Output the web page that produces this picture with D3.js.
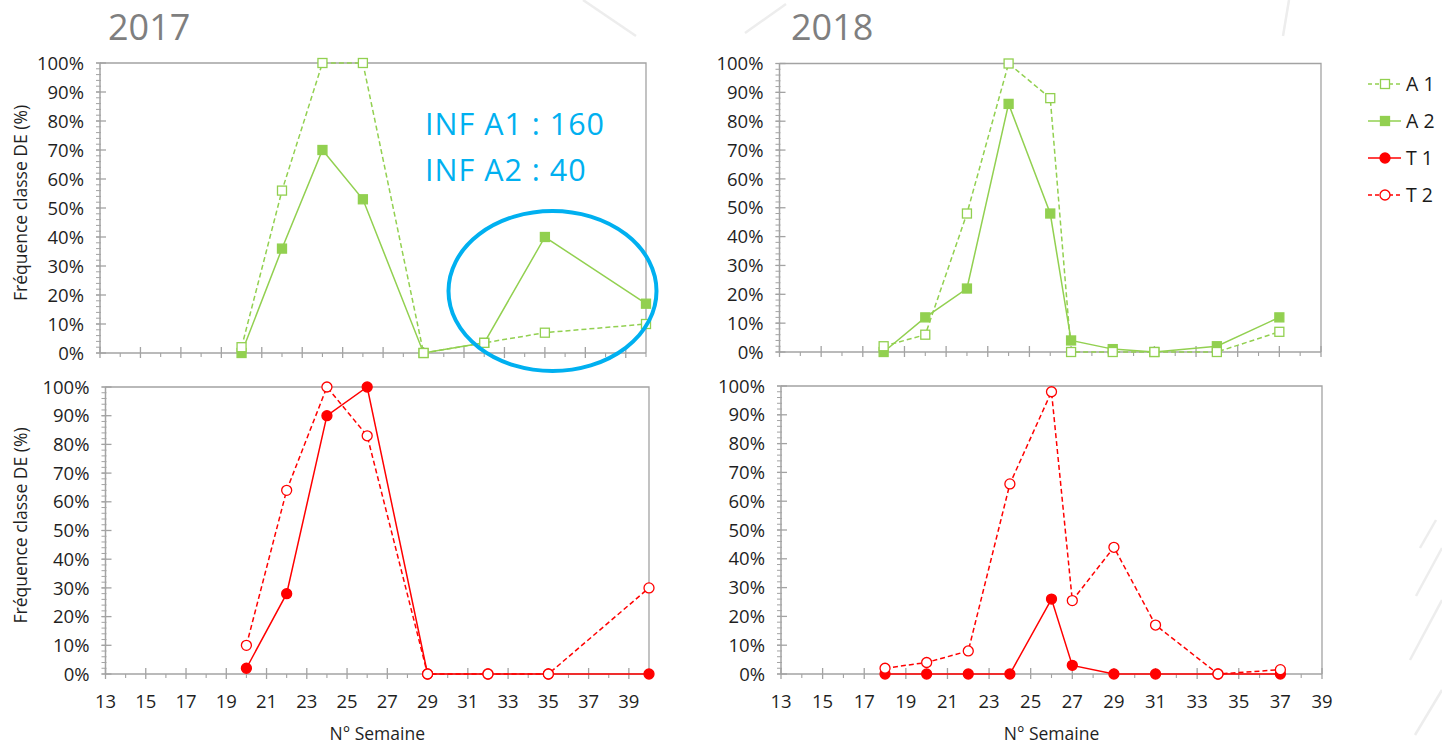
<!DOCTYPE html>
<html><head><meta charset="utf-8">
<script src="https://cdn.jsdelivr.net/npm/d3@7"></script>
<style>body{margin:0;background:#fff}svg{display:block}text{font-family:"Open Sans",sans-serif}</style>
</head><body>
<svg id="c" width="1442" height="746"></svg>
<script>
// ---------- data ----------
const years = ["2017", "2018"];
const weeks2017 = [20, 22, 24, 26, 29, 32, 35, 40];
const A1_2017 = [2, 56, 100, 100, 0, 3.5, 7, 10];
const A2_2017 = [0, 36, 70, 53, 0, 3.5, 40, 17];
const T1_2017 = [2, 28, 90, 100, 0, 0, 0, 0];
const T2_2017 = [10, 64, 100, 83, 0, 0, 0, 30];
const weeks2018 = [18, 20, 22, 24, 26, 27, 29, 31, 34, 37];
const A1_2018 = [2, 6, 48, 100, 88, 0, 0, 0, 0, 7];
const A2_2018 = [0, 12, 22, 86, 48, 4, 1, 0, 2, 12];
const T1_2018 = [0, 0, 0, 0, 26, 3, 0, 0, 0, 0];
const T2_2018 = [2, 4, 8, 66, 98, 25.5, 44, 17, 0, 1.5];
const xTickLabels = [13, 15, 17, 19, 21, 23, 25, 27, 29, 31, 33, 35, 37, 39];
const yTickLabels = [0, 10, 20, 30, 40, 50, 60, 70, 80, 90, 100];
const seriesNames = ["A 1", "A 2", "T 1", "T 2"];
const annotation = ["INF A1 : 160", "INF A2 : 40"];
const xAxisTitle = "N° Semaine";
const yAxisTitle = "Fréquence classe DE (%)";

// ---------- styles ----------
const GREEN = "#92d050", RED = "#ff0000", AXIS = "#a3a3a3", TXT = "#1f1f1f";
const styles = {
  "A 1": {color: GREEN, dash: "5,3", shape: "square", fill: "#fff"},
  "A 2": {color: GREEN, dash: null, shape: "square", fill: GREEN},
  "T 1": {color: RED, dash: null, shape: "circle", fill: RED},
  "T 2": {color: RED, dash: "5,3", shape: "circle", fill: "#fff"}
};

const svg = d3.select("#c");

// faint background decoration
const deco = [[583,0,636,36],[745,33,786,4],[1289,0,1283,36],[1442,548,1416,596],[1442,600,1410,660],[1442,690,1415,735],[1436,520,1420,548]];
svg.selectAll("line.deco").data(deco).enter().append("line")
  .attr("x1", d=>d[0]).attr("y1", d=>d[1]).attr("x2", d=>d[2]).attr("y2", d=>d[3])
  .attr("stroke", "#ededed").attr("stroke-width", 2.5);

const panels = [
  {box:[100, 646, 353, 63], xmax:40, weeks:weeks2017, series:[["A 2",A2_2017],["A 1",A1_2017]], xlab:false, ylab:true},
  {box:[105.5, 649, 674, 387], xmax:40, weeks:weeks2017, series:[["T 1",T1_2017],["T 2",T2_2017]], xlab:true, ylab:true},
  {box:[779.5, 1321, 352, 63.5], xmax:39, weeks:weeks2018, series:[["A 2",A2_2018],["A 1",A1_2018]], xlab:false, ylab:false},
  {box:[781, 1322, 674, 386], xmax:39, weeks:weeks2018, series:[["T 1",T1_2018],["T 2",T2_2018]], xlab:true, ylab:false}
];

function marker(g, st, px, py) {
  if (st.shape === "square") {
    g.append("rect").attr("x", px-4.5).attr("y", py-4.5).attr("width", 9).attr("height", 9)
      .attr("fill", st.fill).attr("stroke", st.color).attr("stroke-width", 1.3);
  } else {
    g.append("circle").attr("cx", px).attr("cy", py).attr("r", 5)
      .attr("fill", st.fill).attr("stroke", st.color).attr("stroke-width", 1.3);
  }
}

panels.forEach(p => {
  const [x0, x1, y0, y1] = p.box;
  const x = d3.scaleLinear().domain([13, p.xmax]).range([x0, x1]);
  const y = d3.scaleLinear().domain([0, 100]).range([y0, y1]);
  const g = svg.append("g");
  // border (top, right)
  g.append("path").attr("d", `M${x0},${y1}H${x1}V${y0}`).attr("fill","none").attr("stroke",AXIS).attr("stroke-width",1.3);
  // y minor ticks
  d3.range(0, 101, 2).forEach(v => {
    g.append("line").attr("x1", x0-4).attr("x2", x0+1).attr("y1", y(v)).attr("y2", y(v)).attr("stroke", AXIS).attr("stroke-width", 1);
  });
  yTickLabels.forEach(v => {
    g.append("line").attr("x1", x0-4).attr("x2", x0+6).attr("y1", y(v)).attr("y2", y(v)).attr("stroke", AXIS).attr("stroke-width", 1.3);
    g.append("text").attr("x", x0-16).attr("y", y(v)).attr("dy", "0.36em").attr("text-anchor","end")
      .attr("font-size", 18.5).attr("fill", TXT).text(v + "%");
  });
  // x ticks
  d3.range(14, p.xmax+1, 2).forEach(v => {
    g.append("line").attr("x1", x(v)).attr("x2", x(v)).attr("y1", y0).attr("y2", y0+4).attr("stroke", AXIS).attr("stroke-width", 1.1);
  });
  xTickLabels.forEach(v => {
    g.append("line").attr("x1", x(v)).attr("x2", x(v)).attr("y1", y0-6).attr("y2", y0+5).attr("stroke", AXIS).attr("stroke-width", 1.3);
    if (p.xlab) g.append("text").attr("x", x(v)).attr("y", y0+34).attr("text-anchor","middle")
      .attr("font-size", 18.5).attr("fill", TXT).text(v);
  });
  // axes lines
  g.append("line").attr("x1", x0).attr("x2", x0).attr("y1", y0).attr("y2", y1).attr("stroke", AXIS).attr("stroke-width", 1.5);
  g.append("line").attr("x1", x0).attr("x2", x1).attr("y1", y0).attr("y2", y0).attr("stroke", AXIS).attr("stroke-width", 1.5);
  if (p.xlab) g.append("text").attr("x", (x0+x1)/2).attr("y", y0+66).attr("text-anchor","middle")
      .attr("font-size", 17.5).attr("fill", TXT).text(xAxisTitle);
  if (p.ylab) g.append("text").attr("transform", `translate(21,${(y0+y1)/2-5}) rotate(-90)`)
      .attr("text-anchor","middle").attr("dy","0.35em").attr("font-size", 17.5).attr("fill", TXT).text(yAxisTitle);
  // series
  const line = d3.line().x(d => x(d[0])).y(d => y(d[1]));
  p.series.forEach(([name, vals]) => {
    const st = styles[name];
    const pts = p.weeks.map((w, i) => [w, vals[i]]);
    const sg = g.append("g");
    sg.append("path").attr("d", line(pts)).attr("fill","none").attr("stroke", st.color)
      .attr("stroke-width", 1.5).attr("stroke-dasharray", st.dash);
    pts.forEach(d => marker(sg, st, x(d[0]), y(d[1])));
  });
});

// titles
svg.append("text").attr("x", 108).attr("y", 39.5).attr("font-size", 36).attr("fill", "#7f7f7f").text(years[0]);
svg.append("text").attr("x", 791).attr("y", 39.5).attr("font-size", 36).attr("fill", "#7f7f7f").text(years[1]);

// annotation
annotation.forEach((t, i) => {
  svg.append("text").attr("x", 425).attr("y", 135 + i*46).attr("font-size", 30.5)
    .attr("letter-spacing", 1).attr("fill", "#00b0f0").text(t);
});
svg.append("ellipse").attr("cx", 552.5).attr("cy", 291).attr("rx", 104).attr("ry", 80)
  .attr("fill", "none").attr("stroke", "#00b0f0").attr("stroke-width", 4);

// legend
seriesNames.forEach((n, i) => {
  const st = styles[n];
  const ly = 84 + i * 37;
  const lg = svg.append("g");
  lg.append("line").attr("x1", 1368).attr("x2", 1401).attr("y1", ly).attr("y2", ly)
    .attr("stroke", st.color).attr("stroke-width", 1.5).attr("stroke-dasharray", st.dash ? "4,3" : null);
  marker(lg, st, 1385, ly);
  lg.append("text").attr("x", 1406).attr("y", ly).attr("dy", "0.36em").attr("font-size", 19.5)
    .attr("fill", "#1a1a1a").text(n);
});
</script>
</body></html>
